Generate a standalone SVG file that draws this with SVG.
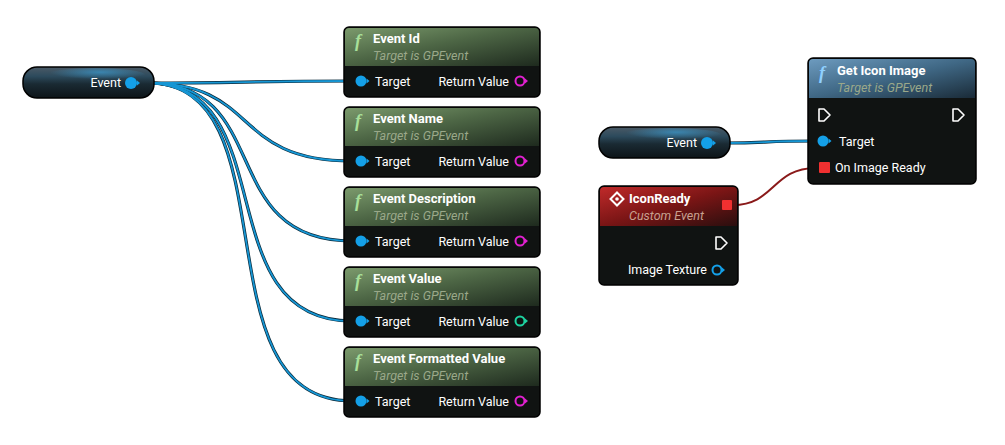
<svg xmlns="http://www.w3.org/2000/svg" width="1005" height="445" viewBox="0 0 1005 445">
<defs>
<linearGradient id="gGreen" x1="0" y1="0" x2="1" y2="1">
<stop offset="0" stop-color="#7b9a6c"/><stop offset="0.45" stop-color="#4d6645"/><stop offset="1" stop-color="#1e2a1e"/>
</linearGradient>
<linearGradient id="gBlue" x1="0" y1="0" x2="1" y2="1">
<stop offset="0" stop-color="#6d9bbf"/><stop offset="0.5" stop-color="#3f6784"/><stop offset="1" stop-color="#1a2b38"/>
</linearGradient>
<linearGradient id="gRed" x1="0" y1="0" x2="1" y2="1">
<stop offset="0" stop-color="#c02a2a"/><stop offset="0.5" stop-color="#7a1515"/><stop offset="1" stop-color="#2a0e0e"/>
</linearGradient>
<linearGradient id="gPill" x1="0" y1="0" x2="0" y2="1">
<stop offset="0" stop-color="#4b5a66"/><stop offset="0.3" stop-color="#2c4a5c"/><stop offset="0.55" stop-color="#1a2a33"/><stop offset="1" stop-color="#0d1418"/>
</linearGradient>
<radialGradient id="gGlow" cx="0.55" cy="0.3" r="0.5">
<stop offset="0" stop-color="#3a9bd0" stop-opacity="0.7"/><stop offset="1" stop-color="#3a9bd0" stop-opacity="0"/>
</radialGradient>
<g id="tpin"><circle cx="0" cy="0" r="5.5" fill="#14a0e8"/><path d="M5.5,-2.5 L8.5,0 L5.5,2.5 Z" fill="#14a0e8"/></g>
<g id="exec"><path d="M-5,-6 L0,-6 L6,0 L0,6 L-5,6 Z" fill="none" stroke="#fff" stroke-width="1.6" stroke-linejoin="round"/></g>
</defs>
<style>
.body{fill:#101312;stroke:#000;stroke-width:1.5}
.title{font-family:Roboto,"Liberation Sans",sans-serif;font-size:13px;font-weight:bold;fill:#fff}
.sub{font-family:Roboto,"Liberation Sans",sans-serif;font-size:12.5px;font-style:italic;fill:#9aa88a}
.lbl{font-family:Roboto,"Liberation Sans",sans-serif;font-size:12.5px;fill:#fff}
.wo{fill:none;stroke:#0b2a3a;stroke-width:3.2}
.wire{fill:none;stroke:#1696d4;stroke-width:1.8}
.fx{font-family:"Liberation Serif",serif;font-style:italic;font-weight:bold;font-size:18px;fill:#a8e09a}
</style>
<rect width="1005" height="445" fill="#ffffff"/>
<g id="connectors">
<g class="wo">
<path d="M148,83 C240,83 250,81 352,81"/>
<path d="M148,83 C260,83 230,161 352,161"/>
<path d="M148,83 C275,83 215,241 352,241"/>
<path d="M148,83 C285,83 205,321 352,321"/>
<path d="M148,83 C295,83 195,401 352,401"/>
<path d="M724,143 C770,143 760,141 816,141"/>
</g>
<g class="wire">
<path d="M148,83 C240,83 250,81 352,81"/>
<path d="M148,83 C260,83 230,161 352,161"/>
<path d="M148,83 C275,83 215,241 352,241"/>
<path d="M148,83 C285,83 205,321 352,321"/>
<path d="M148,83 C295,83 195,401 352,401"/>
<path d="M724,143 C770,143 760,141 816,141"/>
</g>
<path d="M733,205 C775,205 772,168 816,168" fill="none" stroke="#8a1a1a" stroke-width="2"/>
</g>
<g id="event1">
<rect x="23" y="67" width="131" height="31" rx="14" fill="url(#gPill)" stroke="#000" stroke-width="1.5"/>
<ellipse cx="95" cy="75" rx="50" ry="7" fill="url(#gGlow)"/>
<text class="lbl" x="121" y="87" text-anchor="end">Event</text>
<g transform="translate(131,83)"><circle r="6" fill="#14a0e8"/><path d="M6,-2.5 L9,0 L6,2.5 Z" fill="#14a0e8"/></g>
</g>
<g id="eventId">
<rect class="body" x="344" y="27" width="196" height="70" rx="5"/>
<path d="M345,66 L345,32 Q345,28 349,28 L535,28 Q539,28 539,32 L539,66 Z" fill="url(#gGreen)"/>
<text class="fx" x="355" y="47">f</text>
<text class="title" x="373" y="43">Event Id</text>
<text class="sub" x="373" y="60">Target is GPEvent</text>
<use href="#tpin" x="361" y="81"/>
<text class="lbl" x="375" y="86">Target</text>
<text class="lbl" x="509" y="86" text-anchor="end">Return Value</text>
<circle cx="520" cy="81" r="4.5" fill="none" stroke="#e020d0" stroke-width="2"/><path d="M525,78.5 L528,81 L525,83.5 Z" fill="#e020d0"/>
</g>
<g id="eventName">
<rect class="body" x="344" y="107" width="196" height="70" rx="5"/>
<path d="M345,146 L345,112 Q345,108 349,108 L535,108 Q539,108 539,112 L539,146 Z" fill="url(#gGreen)"/>
<text class="fx" x="355" y="127">f</text>
<text class="title" x="373" y="123">Event Name</text>
<text class="sub" x="373" y="140">Target is GPEvent</text>
<use href="#tpin" x="361" y="161"/>
<text class="lbl" x="375" y="166">Target</text>
<text class="lbl" x="509" y="166" text-anchor="end">Return Value</text>
<circle cx="520" cy="161" r="4.5" fill="none" stroke="#e020d0" stroke-width="2"/><path d="M525,158.5 L528,161 L525,163.5 Z" fill="#e020d0"/>
</g>
<g id="eventDescription">
<rect class="body" x="344" y="187" width="196" height="70" rx="5"/>
<path d="M345,226 L345,192 Q345,188 349,188 L535,188 Q539,188 539,192 L539,226 Z" fill="url(#gGreen)"/>
<text class="fx" x="355" y="207">f</text>
<text class="title" x="373" y="203">Event Description</text>
<text class="sub" x="373" y="220">Target is GPEvent</text>
<use href="#tpin" x="361" y="241"/>
<text class="lbl" x="375" y="246">Target</text>
<text class="lbl" x="509" y="246" text-anchor="end">Return Value</text>
<circle cx="520" cy="241" r="4.5" fill="none" stroke="#e020d0" stroke-width="2"/><path d="M525,238.5 L528,241 L525,243.5 Z" fill="#e020d0"/>
</g>
<g id="eventValue">
<rect class="body" x="344" y="267" width="196" height="70" rx="5"/>
<path d="M345,306 L345,272 Q345,268 349,268 L535,268 Q539,268 539,272 L539,306 Z" fill="url(#gGreen)"/>
<text class="fx" x="355" y="287">f</text>
<text class="title" x="373" y="283">Event Value</text>
<text class="sub" x="373" y="300">Target is GPEvent</text>
<use href="#tpin" x="361" y="321"/>
<text class="lbl" x="375" y="326">Target</text>
<text class="lbl" x="509" y="326" text-anchor="end">Return Value</text>
<circle cx="520" cy="321" r="4.5" fill="none" stroke="#1ed2a0" stroke-width="2"/><path d="M525,318.5 L528,321 L525,323.5 Z" fill="#1ed2a0"/>
</g>
<g id="eventFormattedValue">
<rect class="body" x="344" y="347" width="196" height="70" rx="5"/>
<path d="M345,386 L345,352 Q345,348 349,348 L535,348 Q539,348 539,352 L539,386 Z" fill="url(#gGreen)"/>
<text class="fx" x="355" y="367">f</text>
<text class="title" x="373" y="363">Event Formatted Value</text>
<text class="sub" x="373" y="380">Target is GPEvent</text>
<use href="#tpin" x="361" y="401"/>
<text class="lbl" x="375" y="406">Target</text>
<text class="lbl" x="509" y="406" text-anchor="end">Return Value</text>
<circle cx="520" cy="401" r="4.5" fill="none" stroke="#e020d0" stroke-width="2"/><path d="M525,398.5 L528,401 L525,403.5 Z" fill="#e020d0"/>
</g>
<g id="event2">
<rect x="599" y="127" width="131" height="31" rx="14" fill="url(#gPill)" stroke="#000" stroke-width="1.5"/>
<ellipse cx="671" cy="135" rx="50" ry="7" fill="url(#gGlow)"/>
<text class="lbl" x="697" y="147" text-anchor="end">Event</text>
<g transform="translate(707,143)"><circle r="6" fill="#14a0e8"/><path d="M6,-2.5 L9,0 L6,2.5 Z" fill="#14a0e8"/></g>
</g>
<g id="iconReady">
<rect class="body" x="599" y="186" width="139" height="99" rx="5"/>
<path d="M600,226 L600,191 Q600,187 604,187 L733,187 Q737,187 737,191 L737,226 Z" fill="url(#gRed)"/>
<g transform="translate(617,199)"><path d="M0,-6.5 L6.5,0 L0,6.5 L-6.5,0 Z" fill="none" stroke="#fff" stroke-width="2"/><circle r="1.8" fill="#fff"/></g>
<text class="title" x="629" y="203">IconReady</text>
<text class="sub" x="629" y="220" style="fill:#c8a090">Custom Event</text>
<rect x="722" y="200" width="10" height="10" rx="1" fill="#f03030"/>
<use href="#exec" x="721" y="243"/>
<text class="lbl" x="707" y="274" text-anchor="end">Image Texture</text>
<circle cx="717" cy="270" r="4.5" fill="none" stroke="#14a0e8" stroke-width="2"/><path d="M722,267.5 L725,270 L722,272.5 Z" fill="#14a0e8"/>
</g>
<g id="getIconImage">
<rect class="body" x="808" y="58" width="168" height="126" rx="5"/>
<path d="M809,98 L809,63 Q809,59 813,59 L971,59 Q975,59 975,63 L975,98 Z" fill="url(#gBlue)"/>
<text class="fx" x="819" y="79" style="fill:#8fd0ff">f</text>
<text class="title" x="837" y="75">Get Icon Image</text>
<text class="sub" x="837" y="92">Target is GPEvent</text>
<use href="#exec" x="824" y="115"/>
<use href="#exec" x="958" y="115"/>
<use href="#tpin" x="823" y="141"/>
<text class="lbl" x="839" y="146">Target</text>
<rect x="819" y="162" width="11" height="11" rx="1" fill="#f03030"/>
<text class="lbl" x="835" y="172">On Image Ready</text>
</g>
</svg>
